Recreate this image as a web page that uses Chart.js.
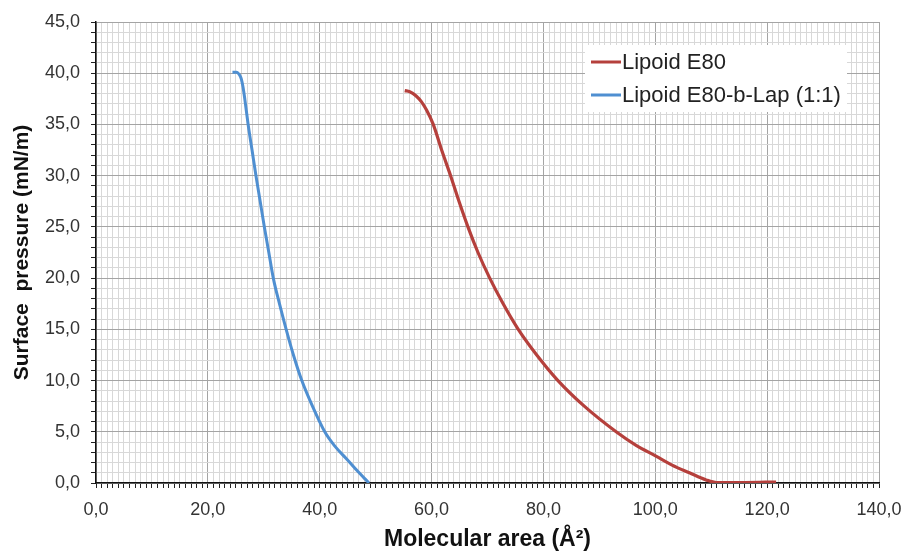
<!DOCTYPE html>
<html>
<head>
<meta charset="utf-8">
<script src="https://cdn.jsdelivr.net/npm/chart.js@4.4.0/dist/chart.umd.min.js"></script>
<style>
  html, body { margin: 0; padding: 0; background: #fff; }
  canvas { display: block; }
</style>
</head>
<body>
<canvas id="isotherm" width="904" height="554"></canvas>
<script>
// isotherm data (area in Å², pressure in mN/m)
const seriesNames = ['Lipoid E80', 'Lipoid E80-b-Lap (1:1)'];
const seriesColors = ['#b5403c', '#4f8fd1'];

const e80Area = [55.2, 56.1, 57.2, 58.2, 59.1, 60.3, 61.8, 63.4, 64.9, 66.5, 68.3, 70.4, 72.8, 75.5, 78.8,
                 82.6, 87.3, 93.0, 96.5, 100.2, 103.0, 106.1, 109.1, 111.0, 116.0, 121.6];
const e80Pressure = [38.3, 38.2, 37.8, 37.2, 36.4, 35.0, 32.5, 30.0, 27.5, 25.0, 22.5, 20.0, 17.5, 15.0, 12.5,
                     10.0, 7.5, 5.0, 3.7, 2.6, 1.75, 1.0, 0.3, 0.05, 0.05, 0.1];

const lapArea = [24.4, 25.1, 25.7, 26.0, 26.3, 26.6, 27.2, 27.9, 28.6, 29.35, 30.1, 30.9, 31.7, 32.8, 34.0,
                 35.3, 36.8, 38.7, 40.9, 42.7, 44.9, 46.8, 48.8];
const lapPressure = [40.1, 40.1, 39.8, 39.4, 38.6, 37.5, 35.0, 32.5, 30.0, 27.5, 25.0, 22.5, 20.0, 17.5, 15.0,
                     12.5, 10.0, 7.5, 5.0, 3.6, 2.3, 1.15, 0.0];

const xMajor = 20, yMajor = 5;
const xLimits = [0, 140], yLimits = [0, 45];

function toPoints(xs, ys) {
    return xs.map((x, i) => ({ x: x, y: ys[i] }));
}

function fmt(v) {
    return v.toFixed(1).replace('.', ',');
}

// legend drawn as a white box sitting inside the plot, like the original
const boxLegend = {
    id: 'boxLegend',
    afterDatasetsDraw(chart) {
        const ctx = chart.ctx;
        const a = chart.chartArea;
        const left = a.left + 489, top = a.top + 23;
        ctx.save();
        ctx.fillStyle = '#fff';
        ctx.fillRect(left, top, 262, 67);
        ctx.font = '22px "Liberation Sans", Arial, sans-serif';
        ctx.textBaseline = 'middle';
        chart.data.datasets.forEach((ds, i) => {
            const y = top + 17 + i * 33;
            ctx.strokeStyle = ds.borderColor;
            ctx.lineWidth = 3;
            ctx.beginPath();
            ctx.moveTo(left + 6, y);
            ctx.lineTo(left + 36, y);
            ctx.stroke();
            ctx.fillStyle = '#222';
            ctx.fillText(ds.label, left + 37, y + 1);
        });
        ctx.restore();
    }
};

const gridColor = (major) => (c) => (c.tick && Math.abs(c.tick.value % major) < 1e-6 ? '#a4a4a4' : '#d8d8d8');

new Chart(document.getElementById('isotherm').getContext('2d'), {
    type: 'scatter',
    data: {
        datasets: [
            {
                label: seriesNames[0],
                data: toPoints(e80Area, e80Pressure),
                borderColor: seriesColors[0],
                backgroundColor: seriesColors[0],
                showLine: true,
                cubicInterpolationMode: 'monotone',
                borderWidth: 3.2,
                pointRadius: 0
            },
            {
                label: seriesNames[1],
                data: toPoints(lapArea, lapPressure),
                borderColor: seriesColors[1],
                backgroundColor: seriesColors[1],
                showLine: true,
                cubicInterpolationMode: 'monotone',
                borderWidth: 3,
                pointRadius: 0
            }
        ]
    },
    options: {
        responsive: false,
        animation: false,
        layout: { padding: { top: 22, right: 25, left: 0, bottom: 0 } },
        plugins: {
            legend: { display: false },
            tooltip: { enabled: false }
        },
        scales: {
            x: {
                type: 'linear',
                min: xLimits[0],
                max: xLimits[1],
                afterFit: (s) => { s.height = 71; s.paddingRight = 0; s.paddingLeft = 0; },
                ticks: {
                    stepSize: 1,
                    autoSkip: false,
                    maxRotation: 0,
                    padding: 11,
                    color: '#333',
                    font: { family: '"Liberation Sans", Arial, sans-serif', size: 18 },
                    callback: (v) => (v % xMajor === 0 ? fmt(v) : '')
                },
                grid: {
                    color: gridColor(xMajor),
                    tickColor: '#222',
                    tickLength: 5
                },
                border: { color: '#111', width: 1.5 },
                title: {
                    display: true,
                    text: 'Molecular area (Å²)',
                    color: '#111',
                    padding: { top: 0, bottom: 1 },
                    font: { family: '"Liberation Sans", Arial, sans-serif', size: 23, weight: 'bold' }
                }
            },
            y: {
                type: 'linear',
                min: yLimits[0],
                max: yLimits[1],
                afterFit: (s) => { s.width = 96; },
                ticks: {
                    stepSize: 1,
                    autoSkip: false,
                    padding: 11,
                    color: '#333',
                    font: { family: '"Liberation Sans", Arial, sans-serif', size: 18 },
                    callback: (v) => (v % yMajor === 0 ? fmt(v) : '')
                },
                grid: {
                    color: gridColor(yMajor),
                    tickColor: '#222',
                    tickLength: 5
                },
                border: { color: '#111', width: 1.5 },
                title: {
                    display: true,
                    text: 'Surface  pressure (mN/m)',
                    color: '#111',
                    padding: { top: 10, bottom: 0 },
                    font: { family: '"Liberation Sans", Arial, sans-serif', size: 21, weight: 'bold' }
                }
            }
        }
    },
    plugins: [boxLegend]
});
</script>
</body>
</html>
